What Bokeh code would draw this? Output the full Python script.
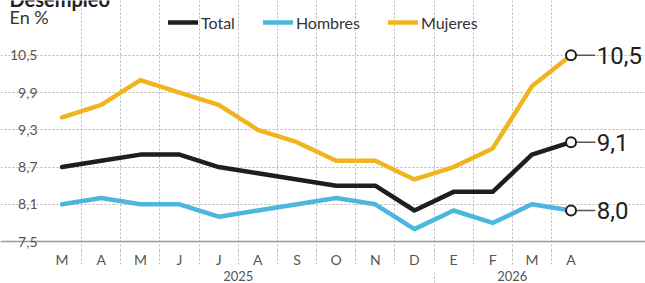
from bokeh.plotting import figure
from bokeh.models import (FixedTicker, Range1d, Legend, LegendItem, Grid, LinearAxis,
                          ColumnDataSource)
from bokeh.core.properties import value
from bokeh.embed import file_html
from bokeh.resources import INLINE

# ---- data ----
months = ["M", "A", "M", "J", "J", "A", "S", "O", "N", "D", "E", "F", "M", "A"]
total = [8.7, 8.8, 8.9, 8.9, 8.7, 8.6, 8.5, 8.4, 8.4, 8.0, 8.3, 8.3, 8.9, 9.1]
hombres = [8.1, 8.2, 8.1, 8.1, 7.9, 8.0, 8.1, 8.2, 8.1, 7.7, 8.0, 7.8, 8.1, 8.0]
mujeres = [9.5, 9.7, 10.1, 9.9, 9.7, 9.3, 9.1, 8.8, 8.8, 8.5, 8.7, 9.0, 10.0, 10.5]
years = ["2025", "2026"]
year_pos = [4.5, 11.5]
year_split = 9.5
y_ticks = [7.5, 8.1, 8.7, 9.3, 9.9, 10.5]
series_names = ["Total", "Hombres", "Mujeres"]
colors = ["#1e1e1e", "#4cb6df", "#f0b41f"]
title_text = "Desempleo"
unit_text = "En %"

FONT = "Lato"
GRID = "#b8b8b8"
n = len(months)
xs = list(range(n))

PX_X = 39.15          # pixels per category
PX_Y = 62.33          # pixels per unit
W, H = 645, 283
BOTTOM = 32
x0 = -0.5 - 42 / PX_X
y0 = y_ticks[0] - 9 / PX_Y
ytop = y0 + (H - BOTTOM) / PX_Y

p = figure(width=W, height=H, output_backend="svg", toolbar_location=None,
           x_range=Range1d(x0, x0 + W / PX_X), y_range=Range1d(y0, ytop),
           min_border_left=0, min_border_right=0, min_border_top=0, min_border_bottom=BOTTOM)
p.outline_line_color = None
p.background_fill_color = "white"

# grids
p.xgrid.ticker = FixedTicker(ticks=[i + 0.5 for i in range(n - 1)])
p.xgrid.bounds = (y0, y_ticks[-1])
p.xgrid.grid_line_color = GRID
p.xgrid.grid_line_dash = "2 2"
p.xgrid.grid_line_width = 1
p.ygrid.ticker = FixedTicker(ticks=y_ticks[1:])
p.ygrid.bounds = (-0.5, n - 1 + 0.55)
p.ygrid.grid_line_color = GRID
p.ygrid.grid_line_dash = "2 2"
p.ygrid.grid_line_width = 1
base = Grid(dimension=1, ticker=FixedTicker(ticks=[y_ticks[0]]), bounds=(-0.5, n - 1 + 0.55),
            grid_line_color="#9a9a9a", grid_line_width=1.5)
p.add_layout(base)

# y axis, pinned at the left edge of the category band
yax = p.yaxis[0]
yax.fixed_location = -0.5
yax.ticker = FixedTicker(ticks=y_ticks)
yax.major_label_overrides = {t: f"{t:.1f}".replace(".", ",") for t in y_ticks}
yax.axis_line_color = None
yax.major_tick_line_color = None
yax.minor_tick_line_color = None
yax.major_tick_out = 0
yax.major_label_standoff = 5
yax.major_label_text_font = FONT
yax.major_label_text_font_size = "14px"
yax.major_label_text_color = "#555555"

# x axis (months) with dotted separators continuing below the plot
xa = p.xaxis[0]
xa.ticker = FixedTicker(ticks=xs, minor_ticks=[i + 0.5 for i in range(n - 1)])
xa.major_label_overrides = {i: m for i, m in enumerate(months)}
xa.axis_line_color = None
xa.major_tick_line_color = None
xa.major_tick_out = 0
xa.major_tick_in = 0
xa.minor_tick_out = 14
xa.minor_tick_in = 0
xa.minor_tick_line_color = GRID
xa.minor_tick_line_dash = "2 2"
xa.major_label_standoff = -14
xa.major_label_text_font = FONT
xa.major_label_text_font_size = "14px"
xa.major_label_text_color = "#555555"

# year axis
ya = LinearAxis(ticker=FixedTicker(ticks=year_pos, minor_ticks=[year_split]),
                major_label_overrides={xp: yr for xp, yr in zip(year_pos, years)},
                axis_line_color=None, major_tick_line_color=None, major_tick_out=0, major_tick_in=0,
                minor_tick_out=16, minor_tick_in=0, minor_tick_line_color=GRID,
                minor_tick_line_dash="2 2", major_label_standoff=-16,
                major_label_text_font=FONT, major_label_text_font_size="13px",
                major_label_text_color="#555555")
p.add_layout(ya, "below")

# lines
renderers = []
for name, vals, col in zip(series_names, [total, hombres, mujeres], colors):
    r = p.line(xs, vals, line_color=col, line_width=4.5, line_join="round", line_cap="round")
    renderers.append(r)

# end markers and labels
last = n - 1
end_vals = [total[-1], hombres[-1], mujeres[-1]]
src = ColumnDataSource(dict(x=[last] * 3, y=end_vals, x1=[last + 0.62] * 3, xt=[last + 0.66] * 3,
                            t=[f"{v:.1f}".replace(".", ",") for v in end_vals]))
p.segment(x0="x", y0="y", x1="x1", y1="y", source=src, line_color="#555555", line_width=1.5)
p.scatter(x="x", y="y", source=src, size=10, fill_color="white", line_color="#1e1e1e", line_width=2)
p.text(x="xt", y="y", text="t", source=src,
       text_font=value("Roboto"),
       text_font_size="24px", text_color="#1e1e1e", text_baseline="middle", text_align="left")

# title (cut at the top edge, as in the reference) and unit label
p.text(x=[x0 + 9 / PX_X], y=[ytop + 2 / PX_Y], text=[title_text], text_font=value(FONT),
       text_font_style="bold", text_font_size="20px", text_color="#222222",
       text_baseline="alphabetic", text_align="left")
p.text(x=[x0 + 9 / PX_X], y=[ytop - 17 / PX_Y], text=[unit_text], text_font=value(FONT),
       text_font_size="18px", text_color="#333333", text_baseline="middle", text_align="left")

# legend
legend = Legend(items=[LegendItem(label=nm, renderers=[r]) for nm, r in zip(series_names, renderers)],
                orientation="horizontal", location=(168, H - BOTTOM - 33), glyph_width=30,
                glyph_height=20, label_standoff=3, spacing=28, padding=0, margin=0,
                border_line_color=None, background_fill_alpha=0, label_text_font=FONT,
                label_text_font_size="16px", label_text_color="#333333")
p.add_layout(legend)

open("out.html", "w").write(file_html(p, INLINE))
